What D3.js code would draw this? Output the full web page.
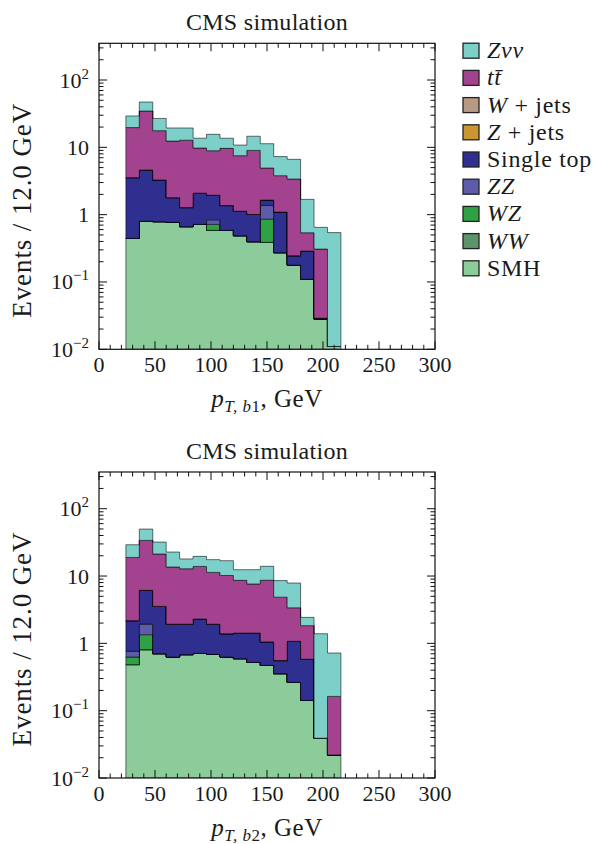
<!DOCTYPE html>
<html><head><meta charset="utf-8">
<script src="https://cdn.jsdelivr.net/npm/d3@7"></script>
<style>
body{margin:0;background:#fff}
svg{display:block}
text{font-family:"Liberation Serif","Times New Roman",serif;fill:#1a1a1a}
</style>
</head><body><svg id="c" width="599" height="844"></svg>
<script>
// ---------- data ----------
const binEdges = [24,36,48,60,72,84,96,108,120,132,144,156,168,180,192,204,216];
const xMajorTicks = [0,50,100,150,200,250,300];
const yMajorTicks = [0.01,0.1,1,10,100];
const yTickLabels = [["10","\u22122"],["10","\u22121"],["1",""],["10",""],["10","2"]];

// stacking order bottom -> top
const processes = ["SMH","WW","WZ","ZZ","Single top","Z + jets","W + jets","ttbar","Znunu"];
const colors    = ["#8ccb9a","#5b9569","#2fa044","#5c5ca8","#2f2f8f","#c9962f","#b79a84","#a3438f","#7dcfca"];

// leading b-jet pT
const SMH_b1   = [0.444,0.80,0.785,0.768,0.662,0.717,0.584,0.584,0.486,0.396,0.387,0.272,0.178,0.110,0.028,0.011];
const WW_b1    = [0,0,0,0,0,0,0,0,0,0,0,0,0,0,0,0];
const WZ_b1    = [0,0,0,0,0,0,0.133,0,0,0,0.47,0,0,0,0,0];
const ZZ_b1    = [0,0,0,0,0,0,0.12,0,0,0,0.51,0,0,0,0,0];
const ST_b1    = [3.10,3.80,2.49,1.02,0.61,1.37,1.11,0.78,0.64,0.61,0.28,0.82,0.067,0.178,0.001,0];
const Zj_b1    = [0,0,0,0,0,0,0,0,0,0,0,0,0,0,0,0];
const Wj_b1    = [0,0,0,0,0,0,0,0,0,0,0,0,0,0,0,0];
const TT_b1    = [16.1,30.0,14.4,10.6,11.5,7.67,6.96,8.29,6.38,8.0,3.28,2.70,3.14,0.251,0.279,0];
const ZNN_b1   = [9.6,12.5,9.2,7.0,6.6,3.9,6.7,4.0,3.3,5.6,6.4,3.5,3.25,1.15,0.34,0.53];

// sub-leading b-jet pT
const SMH_b2   = [0.482,0.804,0.701,0.626,0.678,0.709,0.686,0.626,0.591,0.521,0.471,0.354,0.263,0.142,0.039,0.022];
const WW_b2    = [0,0,0,0,0,0,0,0,0,0,0,0,0,0,0,0];
const WZ_b2    = [0.144,0.54,0,0,0,0,0,0,0,0,0,0,0,0,0,0];
const ZZ_b2    = [0.134,0.59,0,0,0,0,0,0,0,0,0,0,0,0,0,0];
const ST_b2    = [1.41,4.19,2.84,1.30,1.25,1.59,1.24,0.76,0.83,0.90,0.58,0.20,0.81,0.44,0,0];
const Zj_b2    = [0,0,0,0,0,0,0,0,0,0,0,0,0,0,0,0];
const Wj_b2    = [0,0,0,0,0,0,0,0,0,0,0,0,0,0,0,0];
const TT_b2    = [16.7,27.7,17.7,11.7,10.9,11.6,9.4,8.8,7.2,6.2,7.6,4.3,2.3,1.25,0,0.141];
const ZNN_b2   = [10.3,16.0,10.7,9.1,5.1,5.7,6.2,6.7,3.8,4.8,5.3,3.7,4.5,0.6,1.35,0.555];

const panelB1 = [SMH_b1,WW_b1,WZ_b1,ZZ_b1,ST_b1,Zj_b1,Wj_b1,TT_b1,ZNN_b1];
const panelB2 = [SMH_b2,WW_b2,WZ_b2,ZZ_b2,ST_b2,Zj_b2,Wj_b2,TT_b2,ZNN_b2];

// legend (top -> bottom), segments [text, italic]
const legendItems = [
  {c:"#7dcfca", parts:[["Z\u03bd\u03bd",true]]},
  {c:"#a3438f", parts:[["tt\u0304",true]]},
  {c:"#b79a84", parts:[["W",true],[" + jets",false]]},
  {c:"#c9962f", parts:[["Z",true],[" + jets",false]]},
  {c:"#2f2f8f", parts:[["Single top",false]]},
  {c:"#5c5ca8", parts:[["ZZ",true]]},
  {c:"#2fa044", parts:[["WZ",true]]},
  {c:"#5b9569", parts:[["WW",true]]},
  {c:"#8ccb9a", parts:[["SMH",false]]}
];

// ---------- drawing ----------
const svg = d3.select("#c");
const L = 99, R = 435, PH = 306;
const FS = 22;

function drawPanel(top, layers, sub){
  const g = svg.append("g");
  const x = d3.scaleLinear().domain([0,300]).range([L,R]);
  const y = d3.scaleLog().domain([0.01,351]).range([top+PH, top]).clamp(true);
  const yy = v => y(Math.max(v,1e-5));

  g.append("defs").append("clipPath").attr("id","clip"+Math.round(top))
    .append("rect").attr("x",L).attr("y",top).attr("width",R-L).attr("height",PH);

  let lower = binEdges.slice(1).map(()=>0);
  const hg = g.append("g").attr("clip-path",`url(#clip${Math.round(top)})`);
  layers.forEach((vals,i)=>{
    const upper = lower.map((l,j)=>l+vals[j]);
    const pts = [];
    for(let j=0;j<vals.length;j++){
      pts.push([x(binEdges[j]), yy(upper[j])]);
      pts.push([x(binEdges[j+1]), yy(upper[j])]);
    }
    for(let j=vals.length-1;j>=0;j--){
      pts.push([x(binEdges[j+1]), yy(lower[j])]);
      pts.push([x(binEdges[j]), yy(lower[j])]);
    }
    hg.append("path")
      .attr("d", "M"+pts.map(p=>p.join(",")).join("L")+"Z")
      .attr("fill", colors[i])
      .attr("stroke", "rgba(0,0,0,0.55)")
      .attr("stroke-width", 1)
      .attr("stroke-linejoin","miter");
    lower = upper;
  });

  g.append("rect").attr("x",L).attr("y",top).attr("width",R-L).attr("height",PH)
    .attr("fill","none").attr("stroke","#111").attr("stroke-width",1.2);

  const tk = g.append("g").attr("stroke","#111").attr("stroke-width",1);
  const majL = 8, minL = 4.5;
  xMajorTicks.forEach(v=>{
    tk.append("line").attr("x1",x(v)).attr("x2",x(v)).attr("y1",top+PH).attr("y2",top+PH-majL);
    tk.append("line").attr("x1",x(v)).attr("x2",x(v)).attr("y1",top).attr("y2",top+majL);
  });
  d3.range(10,300,10).filter(v=>v%50!==0).forEach(v=>{
    tk.append("line").attr("x1",x(v)).attr("x2",x(v)).attr("y1",top+PH).attr("y2",top+PH-minL);
    tk.append("line").attr("x1",x(v)).attr("x2",x(v)).attr("y1",top).attr("y2",top+minL);
  });
  yMajorTicks.forEach(v=>{
    tk.append("line").attr("x1",L).attr("x2",L+majL).attr("y1",y(v)).attr("y2",y(v));
    tk.append("line").attr("x1",R).attr("x2",R-majL).attr("y1",y(v)).attr("y2",y(v));
  });
  yMajorTicks.forEach(d=>{
    for(let k=2;k<=9;k++){
      const v=d*k; if(v>351) continue;
      tk.append("line").attr("x1",L).attr("x2",L+minL).attr("y1",y(v)).attr("y2",y(v));
      tk.append("line").attr("x1",R).attr("x2",R-minL).attr("y1",y(v)).attr("y2",y(v));
    }
  });

  xMajorTicks.forEach(v=>{
    g.append("text").attr("x",x(v)).attr("y",top+PH+23).attr("text-anchor","middle")
      .attr("font-size",FS).text(v);
  });
  yMajorTicks.forEach((v,i)=>{
    const [base,sup] = yTickLabels[i];
    const t = g.append("text").attr("x",L-10).attr("y",y(v)+7.5).attr("text-anchor","end").attr("font-size",FS);
    t.append("tspan").text(base);
    if(sup) t.append("tspan").attr("dy",-9).attr("font-size",15).text(sup);
  });

  g.append("text").attr("x",(L+R)/2).attr("y",top-13).attr("text-anchor","middle")
    .attr("font-size",24).attr("letter-spacing",0.3).text("CMS simulation");

  const xl = g.append("text").attr("x",(L+R)/2).attr("y",top+PH+58).attr("text-anchor","middle")
    .attr("font-size",25).attr("letter-spacing",0.5);
  xl.append("tspan").attr("font-style","italic").text("p");
  xl.append("tspan").attr("dy",5).attr("font-size",17).attr("font-style","italic").text("T, b");
  xl.append("tspan").attr("font-size",17).text(sub);
  xl.append("tspan").attr("dy",-5).text(", GeV");

  const cy = top + 167;
  g.append("text").attr("transform",`translate(31,${cy}) rotate(-90)`).attr("text-anchor","middle")
    .attr("font-size",27).attr("letter-spacing",0.9).text("Events / 12.0 GeV");
}

drawPanel(43.3, panelB1, "1");
drawPanel(472, panelB2, "2");

const lg = svg.append("g");
legendItems.forEach((d,i)=>{
  const cy = 50.7 + i*27.2;
  lg.append("rect").attr("x",463).attr("y",cy-7.5).attr("width",16).attr("height",15)
    .attr("fill",d.c).attr("stroke","#222").attr("stroke-width",1.3);
  const t = lg.append("text").attr("x",487).attr("y",cy+7.5).attr("font-size",24).attr("letter-spacing",0.7);
  d.parts.forEach(p=>t.append("tspan").attr("font-style",p[1]?"italic":"normal").text(p[0]));
});
</script>
</body></html>
